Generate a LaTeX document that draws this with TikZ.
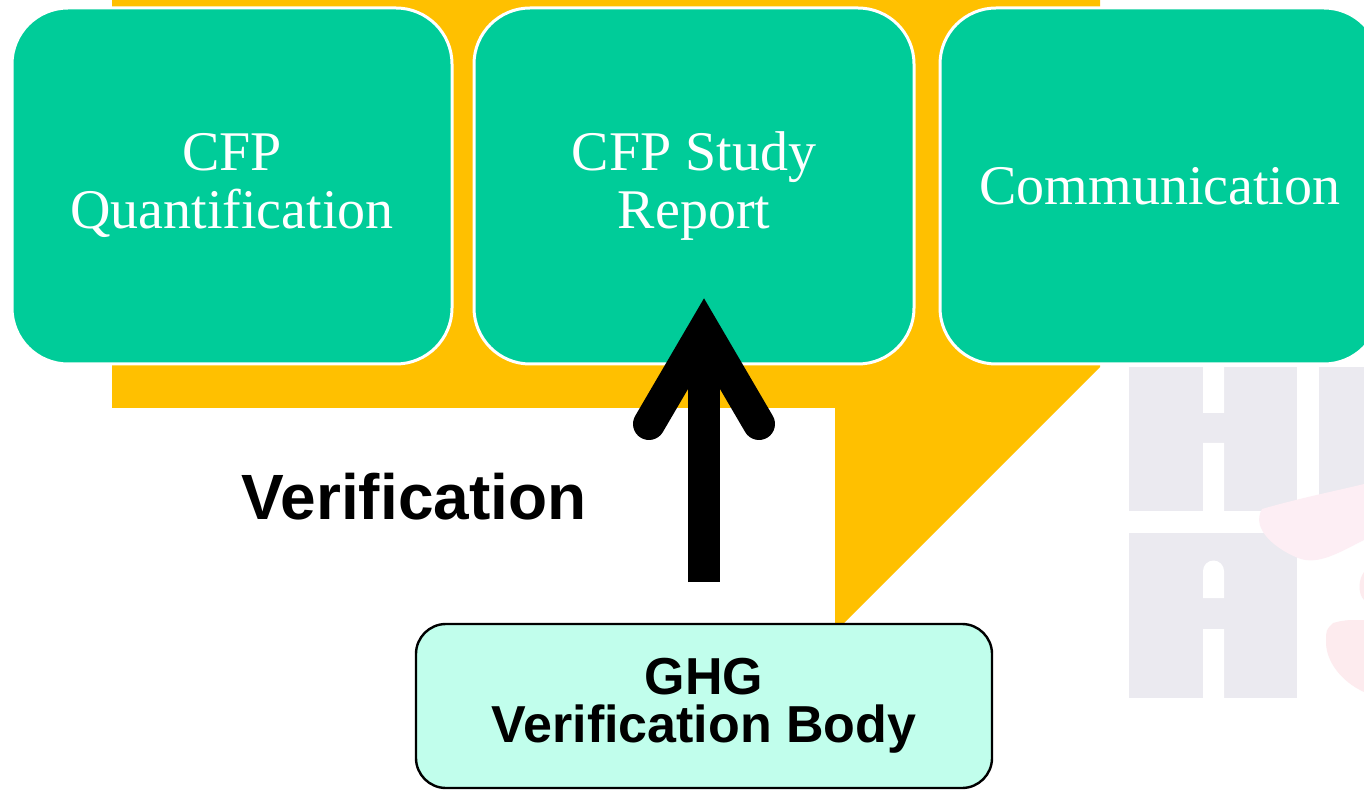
\documentclass[tikz,border=0pt]{standalone}
\usepackage{fontspec}
\setmainfont{Liberation Serif}
\setsansfont{Liberation Sans}
\usepackage{tikz}
\usepackage{xcolor}
\usetikzlibrary{shapes}

\definecolor{cfpgreen}{HTML}{00CC99}
\definecolor{cfporange}{HTML}{FFC000}
\definecolor{ghgmint}{HTML}{C1FEEC}
\definecolor{logogrey}{HTML}{EBEAF0}
\definecolor{logopink}{HTML}{FDEEF4}
\definecolor{logorose}{HTML}{FDEBEE}

\begin{document}
\begin{tikzpicture}[x=0.5pt, y=-0.5pt,
        cfpbox/.style={rectangle, rounded corners=28pt, draw=white, line width=1.5pt,
            fill=cfpgreen, text=white, align=center, minimum width=220pt, minimum height=178pt,
            font=\fontsize{28}{29}\selectfont},
        ghgbox/.style={rectangle, rounded corners=15pt, draw=black, line width=1.2pt,
            fill=ghgmint, align=center, minimum width=288pt, minimum height=82pt,
            font=\sffamily\bfseries\fontsize{26}{24}\selectfont}]
        \useasboundingbox (0,0) rectangle (1364,790);
        \clip (0,0) rectangle (1364,790);
        \fill[white] (0,0) rectangle (1364,790);

        % background shape behind the boxes
        \fill[cfporange] (112,0) -- (1100,0) -- (1100,367) -- (835,632) -- (835,408)
            -- (112,408) -- cycle;

        % faded logo
        \fill[logogrey] (1129,367) rectangle (1297,511);
        \fill[white] (1203,367) rectangle (1224,413)
            (1203,443) rectangle (1224,511);
        \fill[logogrey] (1319,367) rectangle (1364,511);
        \fill[logogrey] (1129,533) rectangle (1297,698);
        \fill[white] (1203,629) rectangle (1224,698)
            (1203,598) rectangle (1224,571)
            (1213.5,571) circle (10.5);
        \fill[logopink] (1262,509) .. controls (1300,498) and (1340,490) .. (1364,484)
            -- (1364,540) .. controls (1340,552) and (1318,566) .. (1298,558)
            .. controls (1278,550) and (1250,530) .. (1262,509) -- cycle;
        \fill[logorose] (1333,623) .. controls (1345,620) .. (1364,620) -- (1364,692)
            .. controls (1342,682) and (1326,662) .. (1326,642)
            .. controls (1326,630) .. (1333,623) -- cycle;
        \fill[logorose] (1364,572) .. controls (1358,580) and (1358,594) .. (1364,600) -- cycle;

        \node[cfpbox] (quant) at (232,186) {CFP\\Quantification};
        \node[cfpbox] (report) at (694,186) {CFP Study\\Report};
        \node[cfpbox] (comm) at (1160,186) {Communication};

        \node[ghgbox] (body) at (704,706) {GHG\\Verification Body};

        \coordinate (vtail) at (704,582);
        \coordinate (vhead) at (704,330);
        \draw[line width=16pt] (vtail) -- (vhead);
        \draw[line width=16pt, line cap=round] (vhead) ++(-55,94) -- (vhead) -- ++(55,94);

        \node[font=\sffamily\bfseries\fontsize{32}{36}\selectfont] (verif) at (414,497) {Verification};
    \end{tikzpicture}
\end{document}
